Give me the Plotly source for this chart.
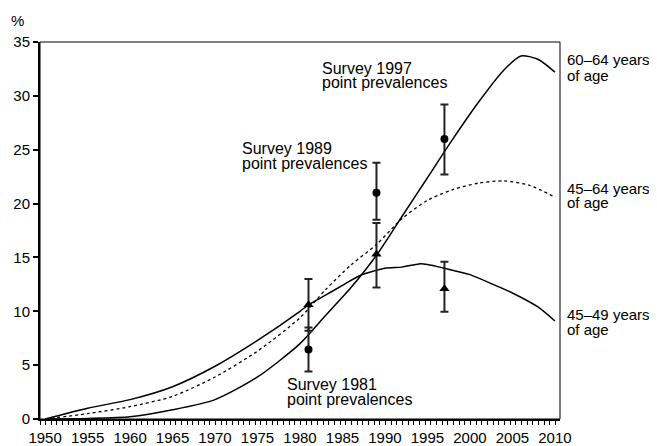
import plotly.graph_objects as go

# ---- data ----
years_4549 = [1950, 1955, 1960, 1965, 1970, 1975, 1980, 1981, 1983, 1985, 1987, 1990, 1992, 1994, 1995, 1997, 2000, 2003, 2005, 2008, 2010]
vals_4549 = [0.0, 1.0, 1.8, 3.0, 4.9, 7.3, 10.0, 10.6, 11.5, 12.4, 13.3, 14.0, 14.1, 14.4, 14.35, 14.0, 13.4, 12.4, 11.7, 10.4, 9.1]

years_6064 = [1950, 1955, 1960, 1965, 1970, 1975, 1980, 1983, 1986, 1989, 1992, 1995, 1998, 2001, 2004, 2006, 2008, 2010]
vals_6064 = [0.0, 0.05, 0.2, 0.85, 1.8, 3.9, 7.0, 9.6, 12.2, 15.2, 18.8, 22.4, 26.0, 29.4, 32.4, 33.7, 33.4, 32.2]

years_4564 = [1950, 1955, 1960, 1965, 1970, 1975, 1980, 1983, 1986, 1989, 1992, 1995, 1998, 2001, 2004, 2007, 2010]
vals_4564 = [0.0, 0.5, 1.15, 2.1, 3.9, 6.3, 9.4, 12.0, 14.3, 16.2, 18.6, 20.3, 21.3, 21.9, 22.1, 21.7, 20.6]

survey_years = [1981, 1989, 1997]
circle_vals = [6.45, 21.0, 26.0]
circle_low = [4.4, 18.5, 22.7]
circle_high = [8.5, 23.8, 29.2]
tri_vals = [10.6, 15.3, 12.1]
tri_low = [8.2, 12.2, 9.95]
tri_high = [13.0, 18.2, 14.6]

x_ticks = list(range(1950, 2011, 5))
y_ticks = list(range(0, 36, 5))

FONT = "Liberation Sans, Arial, sans-serif"
FS = 16
RFS = 15
TFS = 15

fig = go.Figure()
fig.add_trace(go.Scatter(x=years_4549, y=vals_4549, mode="lines", line=dict(color="black", width=1.5, shape="spline", smoothing=0.7), showlegend=False))
fig.add_trace(go.Scatter(x=years_6064, y=vals_6064, mode="lines", line=dict(color="black", width=1.5, shape="spline", smoothing=0.7), showlegend=False))
fig.add_trace(go.Scatter(x=years_4564, y=vals_4564, mode="lines", line=dict(color="black", width=1.3, dash="3px,3px", shape="spline", smoothing=0.7), showlegend=False))

fig.add_trace(go.Scatter(
    x=survey_years, y=circle_vals, mode="markers",
    marker=dict(symbol="circle", size=8, color="black"),
    error_y=dict(type="data", symmetric=False,
                 array=[h - v for h, v in zip(circle_high, circle_vals)],
                 arrayminus=[v - l for v, l in zip(circle_vals, circle_low)],
                 color="#222", thickness=2, width=4),
    showlegend=False))
fig.add_trace(go.Scatter(
    x=survey_years, y=tri_vals, mode="markers",
    marker=dict(symbol="triangle-up", size=9, color="black"),
    error_y=dict(type="data", symmetric=False,
                 array=[h - v for h, v in zip(tri_high, tri_vals)],
                 arrayminus=[v - l for v, l in zip(tri_vals, tri_low)],
                 color="#222", thickness=2, width=4),
    showlegend=False))

# page has an 8px body margin; the figure is sized/offset to compensate
OFF = 8
W, H = 657 - OFF, 446 - OFF
L, R, T, B = 40 - OFF, 97, 42 - OFF, 27
pw, ph = W - L - R, H - T - B

def px(x, y):
    # x, y are page pixel positions
    return (x - OFF - L) / pw, (H - B - (y - OFF)) / ph

def text(x, y, s, anchor="left", size=FS):
    xp, yp = px(x, y)
    fig.add_annotation(x=xp, y=yp, xref="paper", yref="paper", text=s, showarrow=False,
                       xanchor=anchor, yanchor="middle", font=dict(family=FONT, size=size, color="black"))

# survey labels
text(320, 68, "Survey 1997"); text(320, 83, "point prevalences")
text(240, 148, "Survey 1989"); text(240, 163, "point prevalences")
text(285, 384, "Survey 1981"); text(285, 399, "point prevalences")
# right labels
text(565, 60, "60–64 years", size=RFS); text(565, 75, "of age", size=RFS)
text(565, 188, "45–64 years", size=RFS); text(565, 203, "of age", size=RFS)
text(565, 314, "45–49 years", size=RFS); text(565, 329, "of age", size=RFS)
# unit
text(17, 20, "%", anchor="center", size=TFS)

fig.add_shape(type="rect", xref="paper", yref="paper", x0=0, y0=0, x1=1, y1=1,
              line=dict(color="black", width=1))

fig.update_layout(
    width=W, height=H, margin=dict(l=L, r=R, t=T, b=B, autoexpand=False),
    paper_bgcolor="white", plot_bgcolor="white",
    font=dict(family=FONT, size=FS, color="black"),
    xaxis=dict(range=[1949.4, 2010.6], tickvals=x_ticks, ticktext=[str(v) for v in x_ticks],
               ticks="", showgrid=False, zeroline=False, showline=True, linecolor="black", linewidth=2,
               automargin=False, tickfont=dict(family=FONT, size=TFS), ticklabelstandoff=4,
               minor=dict(ticks="outside", tick0=1949.4, dtick=2/3, ticklen=4, tickwidth=1, tickcolor="black", showgrid=False)),
    yaxis=dict(range=[0, 35], tickvals=y_ticks, ticks="outside", ticklen=5, tickwidth=1.5, tickcolor="black",
               showgrid=False, zeroline=False, showline=True, linecolor="black", linewidth=2,
               automargin=False, tickfont=dict(family=FONT, size=TFS)),
)

fig.write_html("out.html")
